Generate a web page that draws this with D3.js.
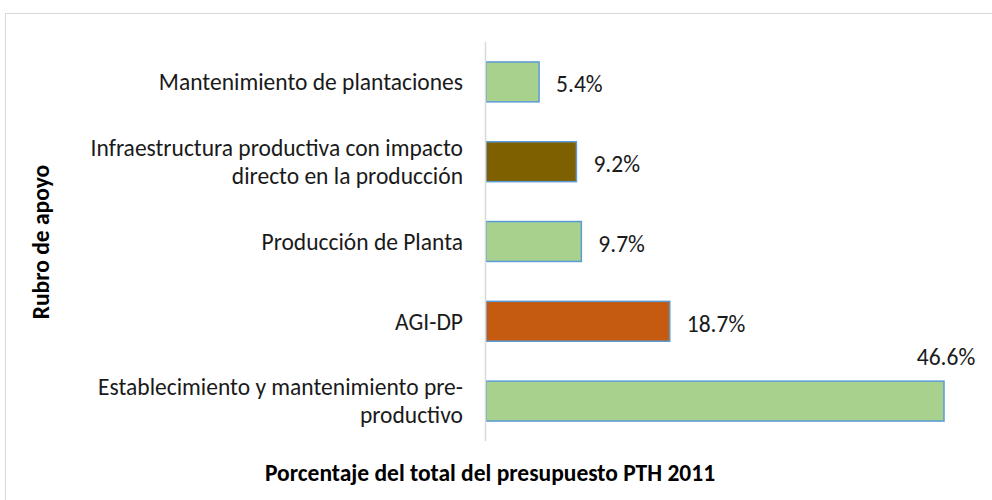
<!DOCTYPE html>
<html>
<head>
<meta charset="utf-8">
<script src="https://cdn.jsdelivr.net/npm/d3@7"></script>
<style>
  body { margin: 0; background: #fff; }
  svg { display: block; font-family: Carlito, Lato, "Open Sans", sans-serif; }
</style>
</head>
<body>
<svg id="chart" width="992" height="500"></svg>
<script>
// data, top to bottom
var categories = [
  ["Mantenimiento de plantaciones"],
  ["Infraestructura productiva con impacto", "directo en la producción"],
  ["Producción de Planta"],
  ["AGI-DP"],
  ["Establecimiento y mantenimiento pre-", "productivo"]
];
var values = [5.4, 9.2, 9.7, 18.7, 46.6];
var fills = ["#A9D18E", "#7F6000", "#A9D18E", "#C55A11", "#A9D18E"];
var xTitle = "Porcentaje del total del presupuesto PTH 2011";
var yTitle = "Rubro de apoyo";

var fs = 23.5;
var svg = d3.select("#chart");

// outer chart frame (runs off right and bottom)
svg.append("rect")
  .attr("x", 5.5).attr("y", 13.5)
  .attr("width", 1000).attr("height", 1000)
  .attr("fill", "none").attr("stroke", "#d9d9d9");

var x = d3.scaleLinear().domain([0, 46.6]).range([486, 944]);
var y = d3.scaleBand().domain(d3.range(values.length)).range([42, 441])
  .paddingInner(0.5).paddingOuter(0.25);

var rows = svg.append("g").selectAll("g").data(values).enter().append("g");

rows.append("rect")
  .attr("x", x(0))
  .attr("y", function(d, i) { return y(i); })
  .attr("width", function(d) { return x(d) - x(0); })
  .attr("height", y.bandwidth())
  .attr("fill", function(d, i) { return fills[i]; })
  .attr("stroke", "#5B9BD5")
  .attr("stroke-width", 1.5);

// value labels; the last one sits above the bar end
rows.append("text")
  .attr("x", function(d, i) { return i == values.length - 1 ? x(d) + 2 : x(d) + 17; })
  .attr("y", function(d, i) { return i == values.length - 1 ? y(i) - 24 : y(i) + y.bandwidth() / 2 + 2; })
  .attr("dy", "0.35em")
  .attr("text-anchor", function(d, i) { return i == values.length - 1 ? "middle" : "start"; })
  .attr("font-size", fs)
  .attr("fill", "#1a1a1a")
  .text(function(d) { return d.toFixed(1) + "%"; });

// axis line
svg.append("line")
  .attr("x1", 485.5).attr("x2", 485.5)
  .attr("y1", 42).attr("y2", 441)
  .attr("stroke", "#d9d9d9").attr("stroke-width", 1.5);

// category labels
var labels = svg.append("g").selectAll("text").data(categories).enter().append("text")
  .attr("text-anchor", "end")
  .attr("font-size", fs)
  .attr("fill", "#1a1a1a")
  .attr("y", function(d, i) { return y(i) + y.bandwidth() / 2 - (d.length - 1) * 14; });

labels.selectAll("tspan").data(function(d) { return d; }).enter().append("tspan")
  .attr("x", 463)
  .attr("dy", function(d, j) { return j == 0 ? "0.35em" : 28; })
  .text(function(d) { return d; });

svg.append("text")
  .attr("x", 490).attr("y", 481)
  .attr("text-anchor", "middle")
  .attr("font-size", fs).attr("font-weight", "bold")
  .text(xTitle);

svg.append("text")
  .attr("transform", "translate(49,242) rotate(-90)")
  .attr("text-anchor", "middle")
  .attr("font-size", fs).attr("font-weight", "bold")
  .text(yTitle);
</script>
</body>
</html>
